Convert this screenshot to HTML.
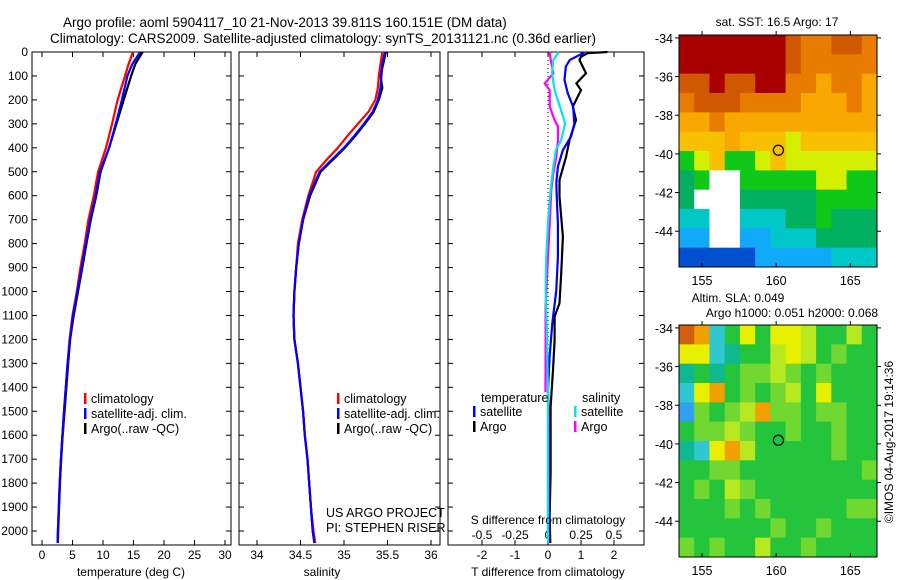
<!DOCTYPE html>
<html><head><meta charset="utf-8">
<style>
html,body{margin:0;padding:0;background:#fff;}
svg{display:block;font-family:"Liberation Sans",sans-serif;}
text{fill:#000;}
</style></head>
<body>
<svg id="fig" width="900" height="580" viewBox="0 0 900 580" xmlns="http://www.w3.org/2000/svg">
<text x="63" y="27" font-size="13.5">Argo profile: aoml 5904117_10 21-Nov-2013 39.811S 160.151E (DM data)</text>
<text x="50" y="43" font-size="13.5">Climatology: CARS2009. Satellite-adjusted climatology: synTS_20131121.nc (0.36d earlier)</text>
<g id="layer"></g>
</svg>
<script>
// ---------- data ----------
const depthTicks = [0,100,200,300,400,500,600,700,800,900,1000,1100,1200,1300,1400,1500,1600,1700,1800,1900,2000];
const tempTicks = [0,5,10,15,20,25,30];
const salTicks = [34,34.5,35,35.5,36];
const tdiffTicks = [-2,-1,0,1,2];
const sdiffTicks = [-0.5,-0.25,0,0.25,0.5];
const sdiffTickLabels = ["-0.5","-0.25","0","0.25","0.5"];

const profDepth = [0,50,100,200,300,400,500,600,700,800,900,1000,1100,1200,1300,1400,1500,1600,1700,1800,1900,2000,2050];
const tempClim  = [14.9,14.2,13.6,12.4,11.5,10.5,9.2,8.5,7.6,7.0,6.3,5.7,5.0,4.5,4.2,3.9,3.6,3.35,3.1,2.9,2.75,2.6,2.55];
const tempSat   = [16.1,14.8,14.0,13.1,12.1,11.0,9.5,8.8,7.9,7.2,6.5,5.8,5.1,4.6,4.2,3.9,3.6,3.35,3.1,2.9,2.75,2.6,2.55];
const tempArgo  = [16.5,15.3,14.6,13.4,12.2,11.0,9.6,8.9,8.0,7.3,6.6,5.9,5.2,4.6,4.3,4.0,3.7,3.4,3.15,2.95,2.8,2.65,2.6];

const salDepth  = [0,50,100,150,200,250,300,350,400,450,500,600,700,800,900,1000,1100,1200,1300,1400,1500,1600,1700,1800,1900,2000,2050];
const salClim   = [35.44,35.42,35.40,35.39,35.36,35.28,35.16,35.04,34.93,34.8,34.68,34.59,34.52,34.47,34.45,34.43,34.42,34.43,34.47,34.5,34.53,34.55,34.58,34.6,34.62,34.65,34.67];
const salSat    = [35.47,35.44,35.43,35.42,35.39,35.33,35.23,35.12,35.0,34.86,34.72,34.6,34.53,34.48,34.45,34.43,34.42,34.43,34.47,34.5,34.53,34.55,34.58,34.6,34.62,34.64,34.66];
const salArgo   = [35.48,35.45,35.42,35.44,35.4,35.34,35.24,35.13,35.01,34.87,34.73,34.61,34.53,34.48,34.45,34.43,34.42,34.43,34.47,34.5,34.53,34.55,34.58,34.6,34.62,34.64,34.66];

const dtArgoDepth = [0,5,20,33,60,89,131,159,228,284,367,437,534,604,771,924,1049,1105,1203,1328,1481,1760,1941,2050];
const dtArgo      = [1.8,1.2,1.0,0.95,1.05,1.15,0.86,1.0,0.75,0.85,0.65,0.55,0.35,0.35,0.45,0.4,0.35,0.2,0.2,0.15,0.08,0.08,0.05,0.07];
const dtSatDepth  = [0,5,33,61,117,173,228,298,353,409,479,548,618,715,855,994,1133,1272,1411,1620,1899,2050];
const dtSat       = [1.1,1.06,0.66,0.54,0.5,0.6,0.76,0.8,0.7,0.45,0.3,0.25,0.27,0.3,0.3,0.25,0.13,0.05,0.0,0.03,0.03,0.02];
const dsSatDepth  = [0,5,33,89,159,228,298,367,409,479,548,618,715,855,994,1133,1272,1411,1620,1899,2050];
const dsSat       = [0.08,0.076,0.04,0.03,0.05,0.09,0.13,0.1,0.06,0.04,0.025,0.013,0.0,-0.013,-0.018,-0.01,-0.005,0.0,0.0,0.0,0.0];
const dsArgoDepth = [0,5,47,89,131,159,228,284,312,367,437,506,576,715,855,1063,1203,1340,1420];
const dsArgo      = [0.02,0.013,0.025,0.04,-0.025,0.013,0.013,0.05,0.076,0.076,0.063,0.04,0.025,0.013,0.0,-0.018,-0.018,-0.018,-0.02];

const mapLonTicks = [155,160,165];
const mapLatTicks = [-34,-36,-38,-40,-42,-44];
const argoLon = [160.151];
const argoLat = [-39.811];
const sstGrid = [
 [21,21,21,21,21,21,21,20,19,19,20,20,19],
 [21,21,21,21,21,21,21,20,19,19,19,19,19],
 [20,20,21,20,20,21,21,19,19,18,19,19,18],
 [19,20,20,20,19,19,19,19,18,18,18,19,18],
 [18,18,19,18,18,18,18,18,18,18,18,18,18],
 [17,17,17,18,17,17,17,16,17,17,17,17,17],
 [15,16,17,15,15,16,17,16,16,16,16,16,16],
 [14,15,null,null,15,15,15,15,15,16,16,15,15],
 [14,null,null,null,14,14,14,14,14,15,15,15,15],
 [13,13,null,null,13,13,13,14,14,15,14,14,14],
 [12,12,null,null,12,12,13,13,13,14,14,14,14],
 [11,11,11,11,11,12,12,12,12,12,13,13,13]
];
const slaGrid = [
 [0.2,0.15,-0.08,0,0.1,0,0.1,0.1,0.08,0,0,0.07,0],
 [0.1,0.12,-0.1,-0.05,0,0,0.08,0.1,0.08,0,0.03,0,0],
 [-0.03,0,-0.05,0,0.04,0.05,0.07,0.03,0,0.03,0,0,0],
 [-0.08,0.1,0.15,0,0.05,0,0.05,0.08,0,0.1,0,0,0],
 [-0.15,0.05,0,0.03,0.08,0.13,0.05,0.04,0,0.05,0.03,0,0],
 [0,0.05,0.05,0.08,0.03,0,0,0.05,0,0,0.05,0,0],
 [-0.05,-0.1,0.1,0.15,0.08,0,0,0,0,0,0.03,0,0],
 [0,0,0.03,0.05,0,0,0,0,0,0,0,0,0.03],
 [0,0.03,0,0.07,0.03,0,0,0,0,0,0,0,0],
 [0,0,0,0.05,0,0.03,0,0,0,0,0,0.03,0.05],
 [0,0,0,0,0,0,0.03,0,0,0.03,0,0,0],
 [0.03,0,0.03,0,0,0.07,0,0,0.03,0,0,0,0]
];

// ---------- helpers ----------
const NS = "http://www.w3.org/2000/svg";
const layer = document.getElementById('layer');
function mk(tag, attrs, parent){
  const e = document.createElementNS(NS, tag);
  for (const k in attrs) e.setAttribute(k, attrs[k]);
  (parent||layer).appendChild(e);
  return e;
}
function txt(x,y,s,size,anchor,parent){
  const t = mk('text',{x:x,y:y,'font-size':size,'text-anchor':anchor||'start'},parent);
  t.textContent = s;
  return t;
}
const Y0 = 52, KD = 0.2395;
const yD = d => Y0 + d*KD;

function panel(name, x0, x1){
  const g = mk('g',{});
  
  
  const r = mk('rect',{x:x0,y:Y0,width:x1-x0,height:545-Y0,fill:'none',stroke:'#000','stroke-width':1},g);
  
  
  depthTicks.forEach(d=>{
    mk('line',{x1:x0,x2:x0+5,y1:yD(d),y2:yD(d),stroke:'#000'},g);
    mk('line',{x1:x1-5,x2:x1,y1:yD(d),y2:yD(d),stroke:'#000'},g);
  });
  return g;
}
function line(g, xs, ds, xf, color, name){
  const pts = xs.map((v,i)=>xf(v).toFixed(1)+','+yD(ds[i]).toFixed(1)).join(' ');
  const p = mk('polyline',{points:pts,fill:'none',stroke:color,'stroke-width':2.2},g);
  
  
  return p;
}
function legend(g, x, y, items){
  items.forEach((it,i)=>{
    mk('rect',{x:x,y:y+i*15-10,width:2.5,height:11,fill:it[1]},g);
    const t = txt(x+7,y+i*15,it[0],12.5,'start',g);
    
    
  });
}

// ---------- depth tick labels ----------
const ylab = mk('g',{});


depthTicks.forEach(d=>{ txt(28, yD(d)+4, String(d), 12, 'end', ylab); });

// ---------- panel 1: temperature ----------
const xT = t => 42 + t*6.1;
const p1 = panel('temperature-panel', 32, 231);
tempTicks.forEach(t=>{
  mk('line',{x1:xT(t),x2:xT(t),y1:545,y2:540,stroke:'#000'},p1);
  mk('line',{x1:xT(t),x2:xT(t),y1:Y0,y2:Y0+5,stroke:'#000'},p1);
  txt(xT(t),559,String(t),12,'middle',p1);
});
line(p1, tempArgo, profDepth, xT, '#000', 'temp-argo-line');
line(p1, tempClim, profDepth, xT, '#f00', 'temp-climatology-line');
line(p1, tempSat, profDepth, xT, '#0000ff', 'temp-satellite-line');
legend(p1, 84, 403, [['climatology','#f00','climatology'],['satellite-adj. clim.','#0000ff','satellite'],['Argo(..raw -QC)','#000','argo']]);
txt(131,576,'temperature (deg C)',12,'middle',p1);

// ---------- panel 2: salinity ----------
const xS = s => 257 + (s-34)*87;
const p2 = panel('salinity-panel', 239, 440);
salTicks.forEach(s=>{
  mk('line',{x1:xS(s),x2:xS(s),y1:545,y2:540,stroke:'#000'},p2);
  mk('line',{x1:xS(s),x2:xS(s),y1:Y0,y2:Y0+5,stroke:'#000'},p2);
  txt(xS(s),559,String(s),12,'middle',p2);
});
line(p2, salArgo, salDepth, xS, '#000', 'sal-argo-line');
line(p2, salClim, salDepth, xS, '#f00', 'sal-climatology-line');
line(p2, salSat, salDepth, xS, '#0000ff', 'sal-satellite-line');
legend(p2, 337, 403, [['climatology','#f00','climatology'],['satellite-adj. clim.','#0000ff','satellite'],['Argo(..raw -QC)','#000','argo']]);
txt(326,517,'US ARGO PROJECT',12.5,'start',p2);
txt(326,532,'PI: STEPHEN RISER',12.5,'start',p2);
txt(322,576,'salinity',12,'middle',p2);

// ---------- panel 3: differences ----------
const xDT = t => 548 + t*33;
const xDS = s => 548 + s*132;
const p3 = panel('difference-panel', 448, 644);
tdiffTicks.forEach(t=>{
  mk('line',{x1:xDT(t),x2:xDT(t),y1:545,y2:540,stroke:'#000'},p3);
  mk('line',{x1:xDT(t),x2:xDT(t),y1:Y0,y2:Y0+5,stroke:'#000'},p3);
  txt(xDT(t),559,String(t),12,'middle',p3);
});
sdiffTicks.forEach((s,i)=>{ txt(xDS(s),539,sdiffTickLabels[i],12,'middle',p3); });
mk('line',{x1:548,x2:548,y1:Y0,y2:545,stroke:'#000','stroke-dasharray':'1,3'},p3);
line(p3, dsArgo, dsArgoDepth, xDS, '#ff00ff', 'sdiff-argo-line');
line(p3, dtArgo, dtArgoDepth, xDT, '#000', 'tdiff-argo-line');
line(p3, dtSat, dtSatDepth, xDT, '#0000ff', 'tdiff-satellite-line');
line(p3, dsSat, dsSatDepth, xDS, '#00e5e5', 'sdiff-satellite-line');
txt(481,402,'temperature',12.5,'start',p3);
txt(582,402,'salinity',12.5,'start',p3);
legend(p3, 473, 416, [['satellite','#0000ff','tdiff-satellite'],['Argo','#000','tdiff-argo']]);
legend(p3, 574, 416, [['satellite','#00e5e5','sdiff-satellite'],['Argo','#ff00ff','sdiff-argo']]);
txt(548,524,'S difference from climatology',12,'middle',p3);
txt(548,576,'T difference from climatology',12,'middle',p3);

// ---------- maps ----------
const LON0 = 153.45, LON1 = 166.8, LAT0 = -33.85, LAT1 = -45.85;
function sstColor(v){
  if (v===null) return '#ffffff';
  if (v>=20.5) return '#a80000';
  if (v>=19.5) return '#d05800';
  if (v>=18.5) return '#e87c00';
  if (v>=17.5) return '#f8a800';
  if (v>=16.5) return '#f8c000';
  if (v>=15.5) return '#d4f000';
  if (v>=14.5) return '#10c818';
  if (v>=13.5) return '#00b060';
  if (v>=12.5) return '#00c8c8';
  if (v>=11.5) return '#10a8f8';
  return '#0050d0';
}
function slaColor(v){
  if (v>=0.18) return '#d06010';
  if (v>=0.13) return '#f0a000';
  if (v>=0.09) return '#e8f000';
  if (v>=0.06) return '#b8e820';
  if (v>=0.025) return '#70d830';
  if (v>=-0.025) return '#24c43c';
  if (v>=-0.065) return '#10b890';
  if (v>=-0.12) return '#30c8d0';
  return '#30a0f0';
}
function map(name, x0, x1, y0, y1, grid, cf, t1){
  const g = mk('g',{});
  
  
  const xL = lon => x0 + (lon-LON0)/(LON1-LON0)*(x1-x0);
  const yL = lat => y0 + (lat-LAT0)/(LAT1-LAT0)*(y1-y0);
  const rows = grid.length, cols = grid[0].length;
  const cw = (x1-x0)/cols, ch = (y1-y0)/rows;
  grid.forEach((row,r)=>row.forEach((v,c)=>{
    const cell = mk('rect',{x:(x0+c*cw).toFixed(2),y:(y0+r*ch).toFixed(2),width:(cw+0.4).toFixed(2),height:(ch+0.4).toFixed(2),fill:cf(v)},g);
    
    
  }));
  mk('rect',{x:x0,y:y0,width:x1-x0,height:y1-y0,fill:'none',stroke:'#000'},g);
  mapLonTicks.forEach(l=>{
    mk('line',{x1:xL(l),x2:xL(l),y1:y1,y2:y1-4,stroke:'#000'},g);
    mk('line',{x1:xL(l),x2:xL(l),y1:y0,y2:y0-4,stroke:'#000'},g);
    txt(xL(l),y1+18,String(l),12.5,'middle',g);
  });
  mapLatTicks.forEach(l=>{
    mk('line',{x1:x0,x2:x0-4,y1:yL(l),y2:yL(l),stroke:'#000'},g);
    mk('line',{x1:x1,x2:x1+4,y1:yL(l),y2:yL(l),stroke:'#000'},g);
    txt(x0-6,yL(l)+5,String(l),12.5,'end',g);
  });
  const c = mk('circle',{cx:xL(argoLon[0]),cy:yL(argoLat[0]),r:5,fill:'none',stroke:'#000','stroke-width':1.2},g);
  
  
  t1.forEach(t=>{
    const e = txt(t[0],t[1],t[2],12,'middle',g);
    
    
  });
  return g;
}
map('sst-map', 679, 877, 35, 267, sstGrid, sstColor, [[777,26,'sat. SST: 16.5 Argo: 17']]);
map('sla-map', 679, 877, 325, 557, slaGrid, slaColor, [[738,302,'Altim. SLA: 0.049'],[792,317,'Argo h1000: 0.051 h2000: 0.068']]);

const cp = txt(0,0,'©IMOS 04-Aug-2017 19:14:36',12,'middle');
cp.setAttribute('transform','translate(893,442) rotate(-90)');


</script>
</body></html>
